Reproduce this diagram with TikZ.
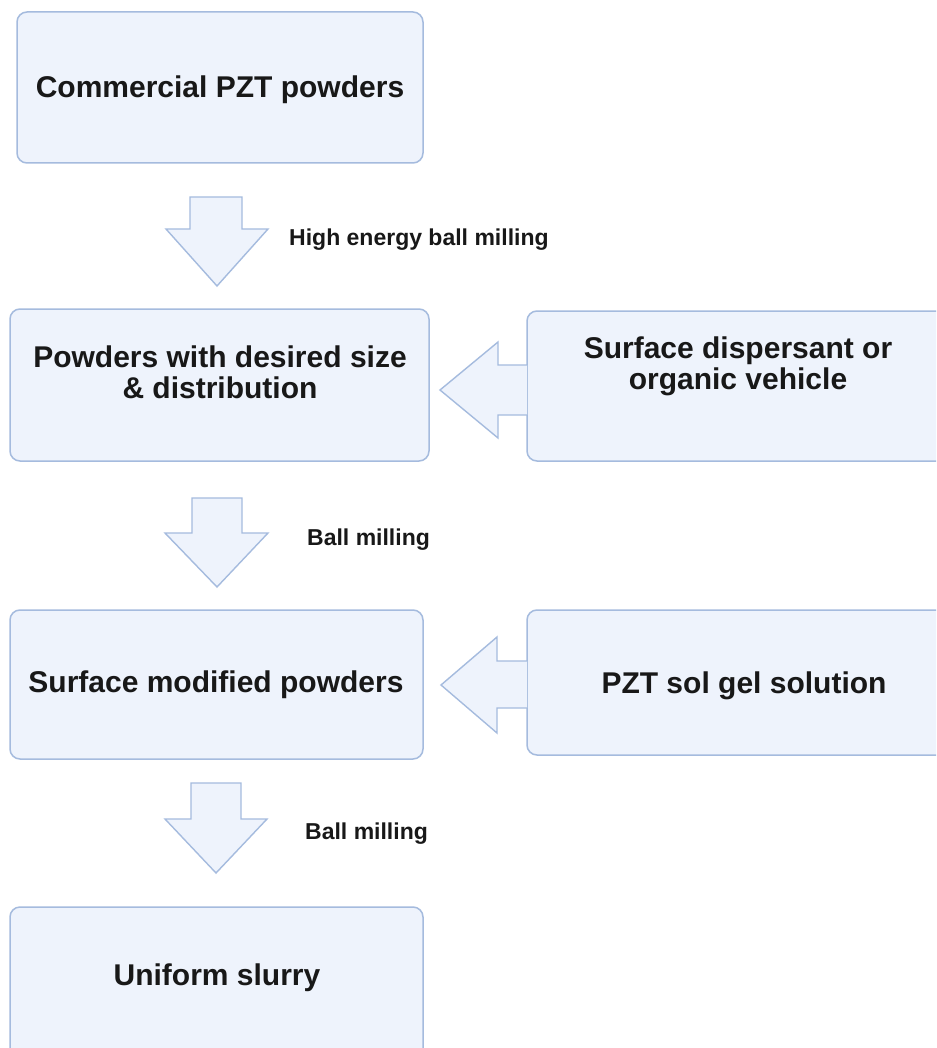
\documentclass[tikz,border=0pt]{standalone}
\usepackage{fontspec}
\setmainfont{Liberation Sans}
\usetikzlibrary{calc}
\definecolor{boxfill}{RGB}{238,243,252}
\definecolor{boxline}{RGB}{165,187,222}
\definecolor{txt}{RGB}{24,24,24}
\tikzset{
  stage/.style={draw=boxline, fill=boxfill, line width=1.5pt, rounded corners=10pt},
  stagetext/.style={text=txt, font=\bfseries\fontsize{30}{31}\selectfont, align=center, inner sep=0pt},
  steplabel/.style={text=txt, font=\bfseries\fontsize{23}{24}\selectfont, anchor=west, inner sep=0pt},
  blockarrow/.style={draw=boxline, fill=boxfill, line width=1.4pt, line join=miter},
}
\begin{document}
\begin{tikzpicture}[x=1pt, y=-1pt]
  \clip (0,0) rectangle (936,1048);
  \fill[white] (0,0) rectangle (936,1048);

  % process boxes
  \draw[stage] (17,12) rectangle (423,163);
  \node[stagetext] (commercial) at (220,90) {Commercial PZT powders};

  \draw[stage] (10,309) rectangle (429,461);
  \node[stagetext] (sized) at (220,372.5) {Powders with desired size\\\& distribution};

  \draw[stage] (527,311) rectangle (960,461);
  \node[stagetext] (dispersant) at (738,366) {Surface dispersant or\\organic vehicle};

  \draw[stage] (10,610) rectangle (423,759);
  \node[stagetext] (modified) at (216,685) {Surface modified powders};

  \draw[stage] (527,610) rectangle (960,755);
  \node[stagetext] (solgel) at (744,686) {PZT sol gel solution};

  \draw[stage] (10,907) rectangle (423,1070);
  \node[stagetext] (slurry) at (217,978) {Uniform slurry};

  % downward block arrows
  \draw[blockarrow] (190,197) -- (242,197) -- (242,229) -- (268,229) -- (217,286)
    -- (166,229) -- (190,229) -- cycle;
  \draw[blockarrow] (192,498) -- (242,498) -- (242,533) -- (268,533) -- (217,587)
    -- (165,533) -- (192,533) -- cycle;
  \draw[blockarrow] (191,783) -- (241,783) -- (241,819) -- (267,819) -- (216,873)
    -- (165,819) -- (191,819) -- cycle;

  % leftward block arrows from the additive boxes
  \draw[blockarrow] (527,365) -- (498,365) -- (498,342) -- (440,390) -- (498,438)
    -- (498,415) -- (527,415);
  \draw[blockarrow] (527,661) -- (497,661) -- (497,637) -- (441,685) -- (497,733)
    -- (497,708) -- (527,708);

  % step labels
  \node[steplabel] (hebm) at (289,240) {High energy ball milling};
  \node[steplabel] (bm1) at (307,540) {Ball milling};
  \node[steplabel] (bm2) at (305,834) {Ball milling};
\end{tikzpicture}
\end{document}
